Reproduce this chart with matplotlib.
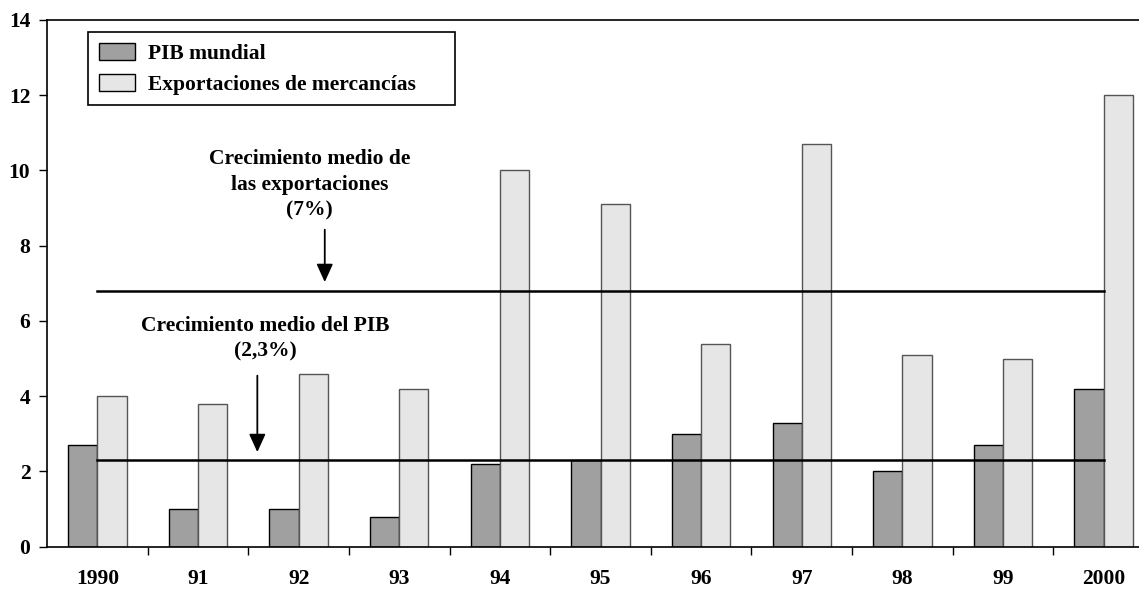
import matplotlib.pyplot as plt
from matplotlib.patches import Patch
import numpy as np

# data
years = ['1990', '91', '92', '93', '94', '95', '96', '97', '98', '99', '2000']
pib = [2.7, 1.0, 1.0, 0.8, 2.2, 2.3, 3.0, 3.3, 2.0, 2.7, 4.2]
export = [4.0, 3.8, 4.6, 4.2, 10.0, 9.1, 5.4, 10.7, 5.1, 5.0, 12.0]
avg_export = 6.8
avg_pib = 2.3

plt.rcParams['font.family'] = ['Liberation Serif', 'DejaVu Serif']
plt.rcParams['font.weight'] = 'bold'

W, H = 1139, 592
fig = plt.figure(figsize=(W/100, H/100), dpi=100)
ax = fig.add_axes([47/W, 45.3/H, 1107/W, 526.7/H])

x = np.arange(len(years))
w = 0.29
ax.bar(x - w/2, pib, w, color='#a0a0a0', edgecolor='black', linewidth=1.0, zorder=2)
ax.bar(x + w/2, export, w, color='#e6e6e6', edgecolor='#555555', linewidth=1.0, zorder=2)

# average lines
ax.plot([0, 10], [avg_export, avg_export], color='black', lw=1.8, zorder=3)
ax.plot([0, 10], [avg_pib, avg_pib], color='black', lw=1.8, zorder=3)

# arrows
arrow = dict(arrowstyle='-|>,head_length=1.1,head_width=0.5', color='black', lw=1.3)
ax.annotate('', xy=(2.26, 6.96), xytext=(2.26, 8.5), arrowprops=arrow)
ax.annotate('', xy=(1.59, 2.44), xytext=(1.59, 4.62), arrowprops=arrow)

ax.text(2.11, 9.62, 'Crecimiento medio de\nlas exportaciones\n(7%)', ha='center', va='center',
        fontsize=15.5, fontweight='bold', linespacing=1.38)
ax.text(1.67, 5.52, 'Crecimiento medio del PIB\n(2,3%)', ha='center', va='center',
        fontsize=15.5, fontweight='bold', linespacing=1.38)

ax.set_xlim(-0.5, 10.5)
ax.set_ylim(0, 14)
ax.set_yticks(np.arange(0, 15, 2))
ax.set_xticks(x)
ax.set_xticklabels(years)
ax.set_xticks(np.arange(0.5, 10.5, 1), minor=True)
ax.tick_params(axis='x', which='major', length=0, pad=16, labelsize=15.5)
ax.tick_params(axis='x', which='minor', length=6, direction='out', width=1)
ax.tick_params(axis='y', length=6, direction='out', width=1, labelsize=15.5, pad=6)
for s in ['left', 'bottom', 'top']:
    ax.spines[s].set_linewidth(1.2)
ax.spines['right'].set_visible(False)

handles = [Patch(facecolor='#a0a0a0', edgecolor='black', label='PIB mundial'),
           Patch(facecolor='#e6e6e6', edgecolor='black', label='Exportaciones de mercancías')]
leg = ax.legend(handles=handles, loc='upper left', bbox_to_anchor=(0.037, 0.5, 0.3315, 0.477),
                mode='expand', borderaxespad=0, fancybox=False, edgecolor='black', framealpha=1,
                fontsize=15.5, handlelength=1.7, handleheight=0.85, borderpad=0.5,
                labelspacing=0.45, handletextpad=0.6)
leg.get_frame().set_linewidth(1.2)

fig.savefig('out.png', dpi=100)
